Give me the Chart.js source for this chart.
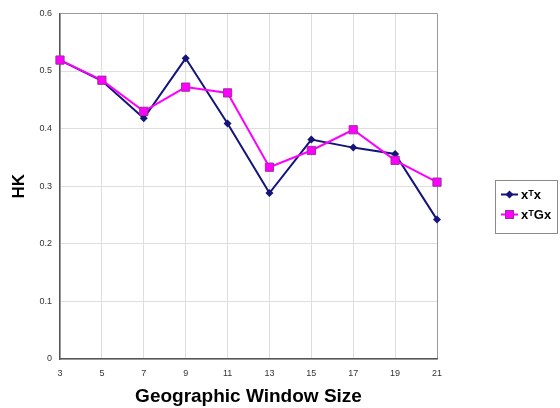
<!DOCTYPE html>
<html>
<head>
<meta charset="utf-8">
<script src="https://cdn.jsdelivr.net/npm/chart.js@4/dist/chart.umd.min.js"></script>
<style>
  html, body { margin: 0; padding: 0; background: #fff; }
  #wrap { width: 560px; height: 408px; position: relative; }
</style>
</head>
<body>
<div id="wrap"><canvas id="c" width="560" height="408"></canvas></div>
<script>
const categories = ['3', '5', '7', '9', '11', '13', '15', '17', '19', '21'];
const seriesXtX  = [0.519, 0.483, 0.418, 0.522, 0.409, 0.288, 0.381, 0.367, 0.356, 0.242];
const seriesXtGx = [0.519, 0.484, 0.430, 0.472, 0.462, 0.333, 0.362, 0.398, 0.345, 0.307];
const yTicks = [0, 0.1, 0.2, 0.3, 0.4, 0.5, 0.6];
const seriesNames = ['xᵀx', 'xᵀGx'];

const NAVY = '#14147a';
const MAGENTA = '#ff00ff';
const MAG_BORDER = '#9a2f9a';

const legendPlugin = {
  id: 'boxLegend',
  afterDraw(chart) {
    const ctx = chart.ctx;
    ctx.save();
    ctx.strokeStyle = '#8a8a8a';
    ctx.lineWidth = 1;
    ctx.strokeRect(495.5, 180.5, 62, 53);
    const rows = [
      { y: 194.5, color: NAVY, style: 'diamond', label: seriesNames[0] },
      { y: 214.5, color: MAGENTA, style: 'square', label: seriesNames[1] }
    ];
    rows.forEach(r => {
      ctx.strokeStyle = r.color;
      ctx.lineWidth = 2;
      ctx.beginPath();
      ctx.moveTo(501, r.y);
      ctx.lineTo(518, r.y);
      ctx.stroke();
      const cx = 509.5;
      if (r.style === 'diamond') {
        ctx.fillStyle = NAVY;
        ctx.beginPath();
        ctx.moveTo(cx, r.y - 4);
        ctx.lineTo(cx + 4, r.y);
        ctx.lineTo(cx, r.y + 4);
        ctx.lineTo(cx - 4, r.y);
        ctx.closePath();
        ctx.fill();
      } else {
        ctx.fillStyle = MAGENTA;
        ctx.strokeStyle = MAG_BORDER;
        ctx.lineWidth = 1;
        ctx.fillRect(cx - 4, r.y - 4, 8, 8);
        ctx.strokeRect(cx - 4, r.y - 4, 8, 8);
      }
      ctx.fillStyle = '#000';
      ctx.font = 'bold 13px "Liberation Sans", Arial, sans-serif';
      ctx.textBaseline = 'middle';
      ctx.textAlign = 'left';
      ctx.fillText(r.label, 521, r.y + 1);
    });
    ctx.restore();
  }
};

new Chart(document.getElementById('c'), {
  type: 'line',
  data: {
    labels: categories,
    datasets: [
      {
        label: seriesNames[0],
        data: seriesXtX,
        borderColor: NAVY,
        backgroundColor: NAVY,
        borderWidth: 2,
        pointStyle: 'rectRot',
        pointRadius: 4,
        pointBorderWidth: 0,
        pointBackgroundColor: NAVY,
        tension: 0,
        order: 2
      },
      {
        label: seriesNames[1],
        data: seriesXtGx,
        borderColor: MAGENTA,
        backgroundColor: MAGENTA,
        borderWidth: 2,
        pointStyle: 'rect',
        pointRadius: 5.8,
        pointBorderWidth: 1,
        pointBorderColor: MAG_BORDER,
        pointBackgroundColor: MAGENTA,
        tension: 0,
        order: 1
      }
    ]
  },
  options: {
    responsive: false,
    animation: false,
    devicePixelRatio: 1,
    layout: { padding: { left: 0, top: 12, right: 123, bottom: 0 } },
    plugins: {
      legend: { display: false },
      tooltip: { enabled: false }
    },
    scales: {
      x: {
        type: 'category',
        offset: false,
        grid: {
          drawTicks: false,
          color: ctx => (ctx.index === categories.length - 1 ? '#9a9a9a' : '#dedede'),
          lineWidth: 1
        },
        border: { display: true, color: '#555', width: 1.5 },
        ticks: {
          padding: 9,
          color: '#333',
          font: { size: 9, family: '"Liberation Sans", Arial, sans-serif' },
          maxRotation: 0,
          autoSkip: false
        },
        title: {
          display: true,
          text: 'Geographic Window Size',
          color: '#000',
          font: { size: 19, weight: 'bold', family: '"Liberation Sans", Arial, sans-serif' },
          padding: { top: 4, bottom: 0 }
        },
        afterFit(scale) { scale.height = 49; }
      },
      y: {
        min: 0,
        max: 0.6,
        afterBuildTicks(scale) { scale.ticks = yTicks.map(v => ({ value: v })); },
        grid: {
          drawTicks: false,
          color: ctx => (ctx.tick && ctx.tick.value === 0.6 ? '#9a9a9a' : '#dedede'),
          lineWidth: 1
        },
        border: { display: true, color: '#555', width: 1.5 },
        ticks: {
          padding: 8,
          color: '#333',
          font: { size: 9, family: '"Liberation Sans", Arial, sans-serif' },
          callback: v => String(Math.round(v * 10) / 10)
        },
        title: {
          display: true,
          text: 'HK',
          color: '#000',
          font: { size: 17, weight: 'bold', family: '"Liberation Sans", Arial, sans-serif' },
          padding: { top: 9, bottom: 0 }
        },
        afterFit(scale) { scale.width = 60; }
      }
    }
  },
  plugins: [legendPlugin]
});
</script>
</body>
</html>
